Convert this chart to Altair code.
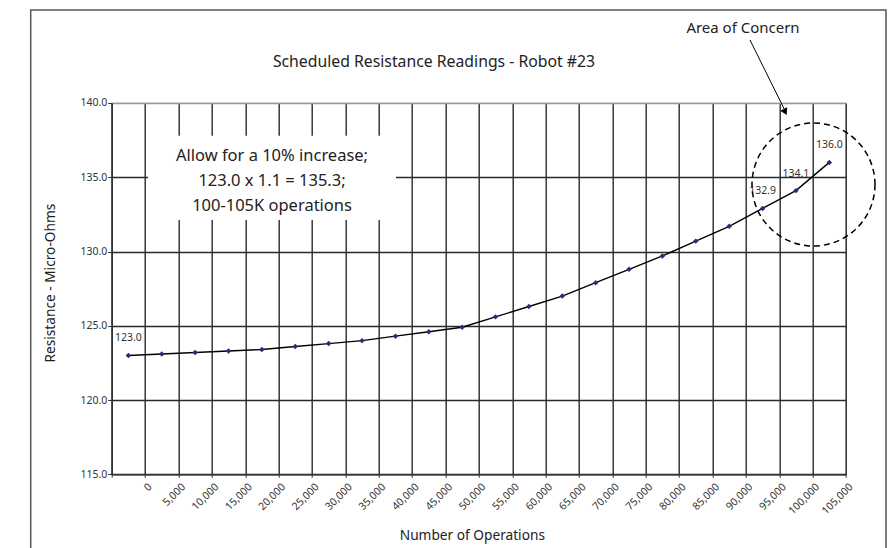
import altair as alt
import pandas as pd

# ---------------- data ----------------
op_labels = ["0", "5,000", "10,000", "15,000", "20,000", "25,000", "30,000",
             "35,000", "40,000", "45,000", "50,000", "55,000", "60,000",
             "65,000", "70,000", "75,000", "80,000", "85,000", "90,000",
             "95,000", "100,000", "105,000"]
resistance = [123.0, 123.1, 123.2, 123.3, 123.4, 123.6, 123.8, 124.0, 124.3,
              124.6, 124.9, 125.6, 126.3, 127.0, 127.9, 128.8, 129.7, 130.7,
              131.7, 132.9, 134.1, 136.0]
point_labels = ["123.0", "", "", "", "", "", "", "", "", "", "", "", "", "",
                "", "", "", "", "", "132.9", "134.1", "136.0"]
y_ticks = [115, 120, 125, 130, 135, 140]

chart_title = "Scheduled Resistance Readings - Robot #23"
x_title = "Number of Operations"
y_title = "Resistance - Micro-Ohms"
note_lines = ["Allow for a 10% increase;", "123.0 x 1.1 = 135.3;", "100-105K operations"]
callout_text = "Area of Concern"

FONT = "Noto Sans"
W, H = 734.3, 371.3
GRID = "#2a2a2a"

df = pd.DataFrame({"ops": op_labels, "r": resistance, "lab": point_labels})

x_enc = alt.X(
    "ops:N", sort=op_labels,
    scale=alt.Scale(paddingInner=0, paddingOuter=0),
    axis=alt.Axis(
        title=x_title, labelAngle=315, labelAlign="right", labelBaseline="top",
        labelOffset=18, labelPadding=4, labelFontSize=10.5, labelColor="#333",
        labelOverlap=False, tickBand="extent", tickSize=3, tickColor="#333",
        domainColor="#333", domainWidth=1.5, grid=True, gridColor=GRID,
        gridWidth=1.4, titleFontSize=13.7, titleFontWeight="normal",
        titleColor="#222", titleX=W / 2 - 7, titleY=61, titleBaseline="middle",
        titleAlign="center",
    ),
)
y_enc = alt.Y(
    "r:Q", scale=alt.Scale(domain=[115, 140], nice=False, zero=False),
    axis=alt.Axis(
        title=y_title, values=y_ticks, format=".1f", labelFontSize=10.5,
        labelColor="#333", labelPadding=1, tickSize=4, tickColor="#333",
        domainColor="#333", domainWidth=1.5, grid=True,
        gridColor=alt.condition("datum.value == 140", alt.value("#999999"), alt.value(GRID)),
        gridWidth=1.4, titleFontSize=13.7, titleFontWeight="normal",
        titleColor="#222", titleX=-61, titleY=H / 2 - 6, titleBaseline="middle",
        titleAlign="center",
    ),
)

base = alt.Chart(df)
one = "datum.ops == '0'"

note_box = base.mark_rect(fill="white").encode(
    x=alt.value(36.3), x2=alt.value(284.3), y=alt.value(32.7), y2=alt.value(117)
).transform_filter(one)

note_text = base.mark_text(
    text=note_lines, font=FONT, fontSize=16.5, color="#222", lineHeight=25,
    align="center", baseline="middle"
).encode(x=alt.value(160.3), y=alt.value(53)).transform_filter(one)

line = base.mark_line(color="black", strokeWidth=1.4).encode(x=x_enc, y=y_enc)
pts = base.mark_point(shape="diamond", filled=True, size=30, color="#2a2a80", opacity=1).encode(x=x_enc, y=y_enc)
labels = base.mark_text(font=FONT, fontSize=10.5, color="#333", dy=-17, baseline="middle").encode(
    x=x_enc, y=y_enc, text="lab:N"
).transform_filter("datum.lab != ''")

circle = base.mark_point(shape="circle", size=15129, filled=False, color="black",
                         strokeWidth=1.5, strokeDash=[6, 4], opacity=1).encode(
    x=alt.value(701.8), y=alt.value(81.5)
).transform_filter(one)

arrow_line = base.mark_rule(color="black", strokeWidth=1).encode(
    x=alt.value(638.3), y=alt.value(-63), x2=alt.value(673.5), y2=alt.value(8)
).transform_filter(one)
arrow_head = base.mark_point(shape="triangle-down", filled=True, size=60, angle=334,
                             color="black", opacity=1).encode(
    x=alt.value(673.5), y=alt.value(9)
).transform_filter(one)

callout = base.mark_text(text=callout_text, font=FONT, fontSize=15, color="#222",
                         align="center", baseline="middle").encode(
    x=alt.value(631.3), y=alt.value(-75)
).transform_filter(one)

title = base.mark_text(text=chart_title, font=FONT, fontSize=15.8, color="#222",
                       align="center", baseline="middle").encode(
    x=alt.value(322.3), y=alt.value(-41.3)
).transform_filter(one)

border = base.mark_rect(fill="white", fillOpacity=0, stroke="#555", strokeWidth=1.5).encode(
    x=alt.value(-81), x2=alt.value(774.3), y=alt.value(-93), y2=alt.value(H + 100)
).transform_filter(one)

chart = alt.layer(
    note_box, note_text, line, pts, labels, circle, arrow_line, arrow_head,
    callout, title, border
).properties(
    width=W, height=H,
    autosize=alt.AutoSizeParams(type="none"),
    padding={"left": 103.7, "top": 95, "right": 42, "bottom": 74},
    background="white",
).configure(font=FONT).configure_view(stroke="#999", strokeWidth=1.2)

chart.save("out.html", embed_options={"renderer": "svg", "actions": False})
